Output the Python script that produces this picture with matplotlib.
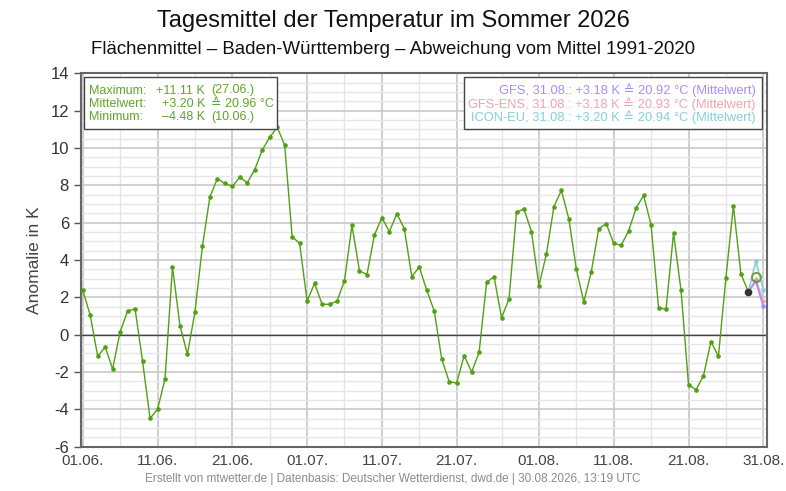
import matplotlib
matplotlib.use("Agg")
import matplotlib.pyplot as plt
from matplotlib.ticker import MultipleLocator, FixedLocator
from matplotlib import font_manager
import numpy as np

plt.rcParams['font.family'] = ['Liberation Sans', 'DejaVu Sans']
plt.rcParams['axes.unicode_minus'] = False

names = {f.name for f in font_manager.fontManager.ttflist}
narrow = 'Liberation Sans Narrow' if 'Liberation Sans Narrow' in names else 'Liberation Sans'

# Observed daily anomalies (K), 01.06. .. 29.08.2026 (day index 0..89)
observed = [2.38, 1.05, -1.16, -0.66, -1.84, 0.16, 1.27, 1.38, -1.43, -4.48,
            -4.00, -2.37, 3.63, 0.48, -1.05, 1.21, 4.73, 7.37, 8.36, 8.10,
            7.95, 8.43, 8.14, 8.84, 9.89, 10.57, 11.11, 10.16, 5.25, 4.89,
            1.80, 2.75, 1.63, 1.63, 1.80, 2.89, 5.86, 3.43, 3.21, 5.34,
            6.27, 5.52, 6.48, 5.68, 3.11, 3.63, 2.38, 1.27, -1.30, -2.52,
            -2.59, -1.12, -2.00, -0.95, 2.80, 3.11, 0.91, 1.91, 6.57, 6.73,
            5.52, 2.63, 4.32, 6.86, 7.73, 6.20, 3.52, 1.75, 3.37, 5.68,
            5.95, 4.89, 4.79, 5.57, 6.79, 7.46, 5.86, 1.43, 1.37, 5.45,
            2.37, -2.68, -2.95, -2.20, -0.37, -1.16, 3.05, 6.91, 3.27, 2.29]
today_value = 3.07          # 30.08. (partial, open circle)
forecast_days = [89, 90, 91]
icon_eu = [2.29, 3.93, 2.41]
gfs_ens = [2.29, 2.98, 1.78]
gfs = [2.29, 2.85, 1.52]

xtick_labels = ['01.06.', '11.06.', '21.06.', '01.07.', '11.07.', '21.07.',
                '01.08.', '11.08.', '21.08.', '31.08.']
xtick_days = [0, 10, 20, 30, 40, 50, 61, 71, 81, 91]

green = '#52a014'
green_txt = '#5fa52a'
c_gfs = '#a98bff'
c_ens = '#f4a3ab'
c_icon = '#86cfd6'

fig = plt.figure(figsize=(7.86, 4.91), dpi=100)
ax = fig.add_axes([0.1027, 0.0902, 0.8727, 0.7605])

days = np.arange(len(observed))

# grid
ax.set_ylim(-6, 14)
ax.set_xlim(-0.27, 91.45)
ax.yaxis.set_major_locator(MultipleLocator(2))
ax.yaxis.set_minor_locator(MultipleLocator(0.5))
ax.xaxis.set_major_locator(FixedLocator(xtick_days))
ax.xaxis.set_minor_locator(FixedLocator([5, 15, 25, 35, 45, 56, 66, 76, 86]))
ax.grid(which='major', axis='y', color='#c8c8c8', lw=1.2)
ax.grid(which='minor', axis='y', color='#e6e6e6', lw=1.0)
ax.grid(which='major', axis='x', color='#cfcfcf', lw=1.4)
ax.grid(which='minor', axis='x', color='#e6e6e6', lw=1.0)
ax.set_axisbelow(True)
ax.axhline(0, color='#444444', lw=1.0, zorder=2)

# forecasts
ax.plot(forecast_days, icon_eu, color=c_icon, lw=1.2, marker='o', ms=2.2, zorder=3)
ax.plot(forecast_days, gfs_ens, color=c_ens, lw=1.2, marker='o', ms=2.2, zorder=3)
ax.plot(forecast_days, gfs, color=c_gfs, lw=1.2, marker='o', ms=2.2, zorder=3)

# observations
ax.plot(days, observed, color=green, lw=1.0, marker='o', ms=2.3, zorder=4)
ax.plot([days[-1]], [observed[-1]], 'o', color='#333333', ms=4.5, zorder=5)
ax.plot([90], [today_value], 'o', mfc='none', mec='#6b9a2a', mew=1.3, ms=6.5, zorder=5)

ax.set_xticks(xtick_days)
ax.set_xticklabels(xtick_labels)
ax.tick_params(axis='y', which='major', labelsize=12, length=5, color='#555555', labelcolor='#333333', width=1)
ax.tick_params(axis='y', which='minor', length=0)
ax.tick_params(axis='x', which='major', labelsize=11, length=0, labelcolor='#444444', pad=5)
ax.tick_params(axis='x', which='minor', length=0)
for lab in ax.get_xticklabels():
    lab.set_fontfamily([narrow, 'DejaVu Sans'])
for s in ax.spines.values():
    s.set_color('#666666')
    s.set_linewidth(1.5)

ax.set_ylabel('Anomalie in K', fontsize=12.5, color='#444444', labelpad=6)

# titles
fig.text(0.5, 1 - 21 / 491, 'Tagesmittel der Temperatur im Sommer 2026',
         ha='center', va='center', fontsize=17, color='#111111')
fig.text(0.5, 1 - 49.5 / 491, 'Flächenmittel – Baden-Württemberg – Abweichung vom Mittel 1991-2020',
         ha='center', va='center', fontsize=13.4, color='#111111')
fig.text(0.5, 1 - 479 / 491,
         'Erstellt von mtwetter.de | Datenbasis: Deutscher Wetterdienst, dwd.de | 30.08.2026, 13:19 UTC',
         ha='center', va='center', fontsize=10 if narrow != 'Liberation Sans' else 8.5,
         color='#8a8a8a', family=[narrow, 'DejaVu Sans'])

# left info box
W, H = 786.0, 491.0
def fx(px):
    return px / W
def fy(py):
    return 1 - py / H

fig.patches.append(plt.Rectangle((fx(84), fy(129)), (277 - 84) / W, (129 - 77) / H,
                                 transform=fig.transFigure, fill=True, fc='white',
                                 ec='#444444', lw=1.0, zorder=10))
rows_y = [90.5, 103.7, 117.0]
labels = ['Maximum:', 'Mittelwert:', 'Minimum:']
vals = ['+11.11 K', '+3.20 K', '–4.48 K']
extra = ['(27.06.)', '≙ 20.96 °C', '(10.06.)']
for yy, a, b, c in zip(rows_y, labels, vals, extra):
    fig.text(fx(89), fy(yy), a, ha='left', va='center', fontsize=9, color=green_txt, zorder=11)
    fig.text(fx(205), fy(yy), b, ha='right', va='center', fontsize=9, color=green_txt, zorder=11)
    fig.text(fx(211), fy(yy), c, ha='left', va='center', fontsize=9, color=green_txt, zorder=11)

# right forecast box
fig.patches.append(plt.Rectangle((fx(464), fy(129)), (762 - 464) / W, (129 - 77) / H,
                                 transform=fig.transFigure, fill=True, fc='white',
                                 ec='#444444', lw=1.0, zorder=10))
fc_lines = ['GFS, 31.08.: +3.18 K ≙ 20.92 °C (Mittelwert)',
            'GFS-ENS, 31.08.: +3.18 K ≙ 20.93 °C (Mittelwert)',
            'ICON-EU, 31.08.: +3.20 K ≙ 20.94 °C (Mittelwert)']
for yy, t, col in zip(rows_y, fc_lines, [c_gfs, c_ens, c_icon]):
    fig.text(fx(755.5), fy(yy), t, ha='right', va='center', fontsize=9.3, color=col, zorder=11)

fig.savefig('out.png', dpi=100)
